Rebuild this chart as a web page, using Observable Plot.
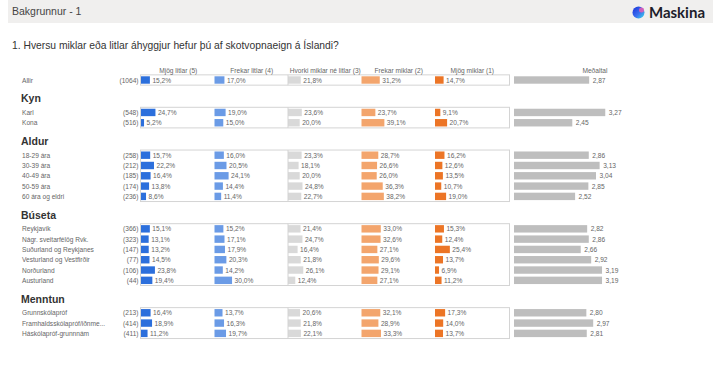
<!DOCTYPE html>
<html><head><meta charset="utf-8">
<script src="https://cdn.jsdelivr.net/npm/d3@7"></script>
<script src="https://cdn.jsdelivr.net/npm/@observablehq/plot@0.6"></script>
<style>
body{margin:0;background:#fff;font-family:"Liberation Sans",Arial,sans-serif;width:713px;height:366px;overflow:hidden;position:relative}
#top{position:absolute;left:8px;top:0;width:705px;height:23px;background:#f0efee}
#top .t{position:absolute;left:4px;top:5px;font-size:10.5px;color:#444}
#logo{position:absolute;right:8px;top:3px;display:flex;align-items:center;gap:4px;font-family:Lato,"Open Sans",sans-serif;font-size:15px;font-weight:bold;color:#1d1d2b}
#title{position:absolute;left:12px;top:40px;font-size:10.3px;color:#333}
#chart{position:absolute;left:0;top:58px}
</style></head>
<body>
<div id="top"><span class="t">Bakgrunnur - 1</span>
<div id="logo"><svg width="13" height="13" viewBox="0 0 13 13"><defs><linearGradient id="g" x1="0" y1="0" x2="1" y2="1"><stop offset="0" stop-color="#1b2fd6"/><stop offset="0.55" stop-color="#3a6ff0"/><stop offset="1" stop-color="#38e0e8"/></linearGradient></defs><circle cx="6.5" cy="6.5" r="6" fill="url(#g)"/><circle cx="9.5" cy="4" r="2.5" fill="#f25bb0" opacity="0.8"/></svg><span>Maskina</span></div>
</div>
<div id="title">1. Hversu miklar eða litlar áhyggjur hefur þú af skotvopnaeign á Íslandi?</div>
<div id="chart"></div>
<script>
// ---- data ----
const groups = ["Allir", "Kyn", "Aldur", "Búseta", "Menntun"];
const rowLabels = ["Allir", "Karl", "Kona", "18-29 ára", "30-39 ára", "40-49 ára", "50-59 ára", "60 ára og eldri",
  "Reykjavík", "Nágr. sveitarfélög Rvk.", "Suðurland og Reykjanes", "Vesturland og Vestfirðir", "Norðurland", "Austurland",
  "Grunnskólapróf", "Framhaldsskólapróf/iðnme...", "Háskólapróf-grunnnám"];
const rowGroup = ["Allir", "Kyn", "Kyn", "Aldur", "Aldur", "Aldur", "Aldur", "Aldur",
  "Búseta", "Búseta", "Búseta", "Búseta", "Búseta", "Búseta", "Menntun", "Menntun", "Menntun"];
const rowN = [1064, 548, 516, 258, 212, 185, 174, 236, 366, 323, 147, 77, 106, 44, 213, 414, 411];
const columns = ["Mjög litlar (5)", "Frekar litlar (4)", "Hvorki miklar né litlar (3)", "Frekar miklar (2)", "Mjög miklar (1)"];
const pct5 = [15.2, 24.7, 5.2, 15.7, 22.2, 16.4, 13.8, 8.6, 15.1, 13.1, 13.2, 14.5, 23.8, 19.4, 16.4, 18.9, 11.2];
const pct4 = [17.0, 19.0, 15.0, 16.0, 20.5, 24.1, 14.4, 11.4, 15.2, 17.1, 17.9, 20.3, 14.2, 30.0, 13.7, 16.3, 19.7];
const pct3 = [21.8, 23.6, 20.0, 23.3, 18.1, 20.0, 24.8, 22.7, 21.4, 24.7, 16.4, 21.8, 26.1, 12.4, 20.6, 21.8, 22.1];
const pct2 = [31.2, 23.7, 39.1, 28.7, 26.6, 26.0, 36.3, 38.2, 33.0, 32.6, 27.1, 29.6, 29.1, 27.1, 32.1, 28.9, 33.3];
const pct1 = [14.7, 9.1, 20.7, 16.2, 12.6, 13.5, 10.7, 19.0, 15.3, 12.4, 25.4, 13.7, 6.9, 11.2, 17.3, 14.0, 13.7];
const meanLabel = "Meðaltal";
const means = [2.87, 3.27, 2.45, 2.86, 3.13, 3.04, 2.85, 2.52, 2.82, 2.86, 2.66, 2.92, 3.19, 3.19, 2.80, 2.97, 2.81];

// ---- style / layout ----
const colColors = ["#2c6fdc", "#6b9be6", "#d9d9d9", "#f3a56d", "#ec7526"];
const PX = 0.585;                       // px per percentage point
const U = px => px / PX;                // px -> x units
const colStart = [141, 214.5, 288, 361.5, 435].map(U);
const colEnd = U(509.5);
const meanStart = U(514), meanUnit = 40.2 / PX, meanOrigin = 1, meanMax = 5;
const series = [pct5, pct4, pct3, pct2, pct1];

// row positions (in row units)
const rows = [];
const headings = [];
let pos = 0, prevGroup = null;
rowLabels.forEach((lab, i) => {
  const g = rowGroup[i];
  if (i > 0 && g !== prevGroup) {
    pos += 1.8;
    headings.push({label: g, u: pos});
    pos += 1.35;
  } else if (i > 0) pos += 1;
  rows.push({label: lab, n: rowN[i], group: g, u: pos, mean: means[i], i});
  prevGroup = g;
});
const boxes = groups.map(g => {
  const r = rows.filter(d => d.group === g);
  return {y1: r[0].u - 0.5, y2: r[r.length - 1].u + 0.5};
});
const cells = [];
rows.forEach(r => series.forEach((s, j) => cells.push({u: r.u, j, col: columns[j], v: s[r.i]})));
const headers = columns.map((c, j) => ({label: c, x: colStart[j] + (U(73.5)) / 2}));
headers.push({label: meanLabel, x: meanStart + (meanMax - meanOrigin) / 2 * meanUnit});

const fmtP = v => d3.format(".1f")(v).replace(".", ",") + "%";
const fmtM = v => d3.format(".2f")(v).replace(".", ",");
const h = 0.36;
const txt = "#666";
const fs = 6.6;

const chart = Plot.plot({
  width: 713, height: 308,
  marginLeft: 0, marginRight: 0, marginTop: 0, marginBottom: 0,
  style: {fontFamily: "'Liberation Sans', Arial, sans-serif", background: "transparent"},
  x: {domain: [0, U(713)], range: [0, 713], axis: null},
  y: {domain: [0, 1], range: [22, 32.3], axis: null},
  color: {domain: columns, range: colColors},
  marks: [
    Plot.rect(cells, {x1: d => colStart[d.j], x2: d => colStart[d.j] + d.v, y1: d => d.u - h, y2: d => d.u + h, fill: "col"}),
    Plot.rect(boxes, {x1: colStart[0] - U(0.5), x2: colEnd, y1: "y1", y2: "y2", fill: "none", stroke: "#d4d4d4", strokeWidth: 1}),
    Plot.ruleX(boxes, {x: colStart[2] - U(0.5), y1: "y1", y2: "y2", stroke: "#d4d4d4", strokeWidth: 1}),
    Plot.text(cells, {x: d => colStart[d.j] + d.v, y: "u", text: d => fmtP(d.v), dx: 2, textAnchor: "start", fontSize: fs, fill: txt}),
    Plot.rect(rows, {x1: meanStart, x2: d => meanStart + (d.mean - meanOrigin) * meanUnit, y1: d => d.u - h, y2: d => d.u + h, fill: "#bebebe"}),
    Plot.text(rows, {x: d => meanStart + (d.mean - meanOrigin) * meanUnit, y: "u", text: d => fmtM(d.mean), dx: 3, textAnchor: "start", fontSize: fs, fill: txt}),
    Plot.text(headers, {x: "x", y: () => -0.97, text: "label", textAnchor: "middle", fontSize: fs, fill: txt}),
    Plot.text(rows, {x: U(21.5), y: "u", text: "label", textAnchor: "start", fontSize: fs, fill: txt}),
    Plot.text(rows, {x: U(138), y: "u", text: d => "(" + d.n + ")", textAnchor: "end", fontSize: fs, fill: txt}),
    Plot.text(headings, {x: U(20.5), y: "u", text: "label", textAnchor: "start", fontSize: 10.5, fontWeight: "bold", fill: "#333"})
  ]
});
document.getElementById("chart").appendChild(chart);
</script>
</body></html>
